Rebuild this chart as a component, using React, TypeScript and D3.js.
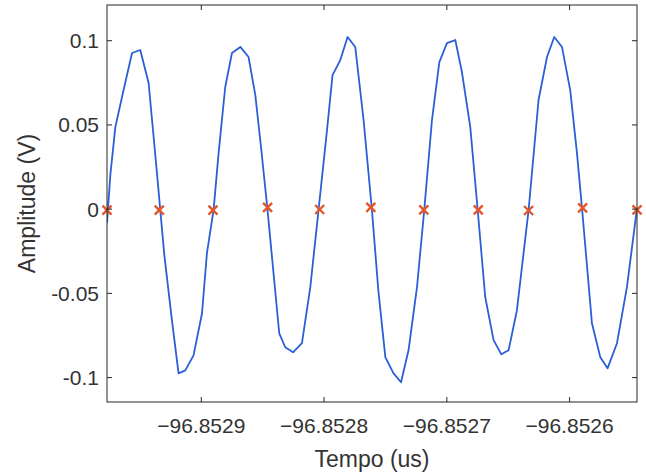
import React, { useEffect, useRef } from 'react';
import * as d3 from 'd3';

const sampleTime = [
  -96.8529768, -96.8529741, -96.85297, -96.8529633, -96.8529564, -96.8529497, -96.8529429,
  -96.8529367, -96.8529301, -96.8529239, -96.8529185, -96.852913, -96.8529063, -96.8528994,
  -96.8528954, -96.85289, -96.8528859, -96.8528805, -96.852875, -96.8528682, -96.8528615,
  -96.852856, -96.8528511, -96.8528462, -96.8528414, -96.8528365, -96.8528316, -96.8528253,
  -96.852818, -96.8528112, -96.8528045, -96.8527976, -96.8527931, -96.8527868, -96.8527808,
  -96.8527746, -96.8527678, -96.852761, -96.8527558, -96.8527501, -96.8527434, -96.8527373,
  -96.8527312, -96.8527243, -96.8527184, -96.8527121, -96.8527061, -96.8526999, -96.8526931,
  -96.8526877, -96.8526809, -96.852675, -96.8526687, -96.8526619, -96.8526556, -96.8526497,
  -96.8526429, -96.8526375, -96.8526334, -96.8526253, -96.8526184, -96.8526125, -96.8526062,
  -96.8525995, -96.852594, -96.8525899, -96.8525818, -96.852575, -96.8525691, -96.8525614,
  -96.8525533, -96.8525451
];

const sampleAmp = [
  -0.0083, 0.0202, 0.0487, 0.0707, 0.0927, 0.0945, 0.0749,
  0.0261, -0.0273, -0.066, -0.0975, -0.0957, -0.0868, -0.0618,
  -0.0261, -0.0006, 0.0333, 0.0725, 0.0927, 0.0963, 0.0903,
  0.0677, 0.0351, 0.0006, -0.0362, -0.0737, -0.082, -0.085,
  -0.0796, -0.0463, -0.0006, 0.0469, 0.0796, 0.0885, 0.1022,
  0.0963, 0.0529, -0.0006, -0.0481, -0.0879, -0.0975, -0.1028,
  -0.0838, -0.0463, -0.0006, 0.0529, 0.0873, 0.0986, 0.1004,
  0.0814, 0.0487, 0.0006, -0.0523, -0.0778, -0.0862, -0.0838,
  -0.06, -0.0261, -0.0006, 0.0648, 0.0903, 0.1022, 0.0963,
  0.0707, 0.0333, 0.0006, -0.0677, -0.0879, -0.0945, -0.0796,
  -0.0463, 0.0006
];

// zero crossings (red x markers)
const crossTime = [
  -96.8529768, -96.8529342, -96.8528905, -96.852846, -96.8528036, -96.8527619,
  -96.8527188, -96.8526744, -96.8526334, -96.8525894, -96.8525451
];
const crossAmp = [-0.0006, -0.0006, -0.0006, 0.001, -0.0002, 0.001, -0.0004, -0.0004, -0.0008, 0.0008, -0.0004];

const xTicks = [-96.8529, -96.8528, -96.8527, -96.8526];
const yTicks = [-0.1, -0.05, 0, 0.05, 0.1];
const yLimits = [-0.1145, 0.1212];

const W = 646, H = 476;

const App = () => {
  const ref = useRef<SVGSVGElement>(null);

  useEffect(() => {
    const svg = d3.select(ref.current);
    svg.selectAll('*').remove();

    const margin = { top: 5, right: 9, bottom: 74, left: 107 };
    const width = W - margin.left - margin.right;
    const height = H - margin.top - margin.bottom;
    const font = '"Liberation Sans", Arial, sans-serif';
    const ink = '#262626';

    const g = svg.append('g').attr('transform', `translate(${margin.left},${margin.top})`);

    const x = d3.scaleLinear().domain(d3.extent(sampleTime) as [number, number]).range([0, width]);
    const y = d3.scaleLinear().domain(yLimits).range([height, 0]);

    g.append('clipPath').attr('id', 'plotclip')
      .append('rect').attr('width', width).attr('height', height);

    const pts = sampleTime.map((t, i) => [t, sampleAmp[i]] as [number, number]);
    const line = d3.line<[number, number]>().x(d => x(d[0])).y(d => y(d[1]));

    g.append('path')
      .datum(pts)
      .attr('clip-path', 'url(#plotclip)')
      .attr('fill', 'none')
      .attr('stroke', '#2b5fd6')
      .attr('stroke-width', 1.8)
      .attr('stroke-linejoin', 'round')
      .attr('d', line);

    // x markers
    const mk = g.selectAll('.mk')
      .data(crossTime.map((t, i) => [t, crossAmp[i]]))
      .enter().append('g')
      .attr('class', 'mk')
      .attr('transform', d => `translate(${x(d[0])},${y(d[1])})`);
    const s = 4.5;
    mk.append('line').attr('x1', -s).attr('y1', -s).attr('x2', s).attr('y2', s);
    mk.append('line').attr('x1', -s).attr('y1', s).attr('x2', s).attr('y2', -s);
    mk.selectAll('line').attr('stroke', '#e2572a').attr('stroke-width', 2.4);

    // box
    g.append('rect')
      .attr('width', width).attr('height', height)
      .attr('fill', 'none').attr('stroke', ink).attr('stroke-width', 1);

    const tl = 5;
    // x ticks bottom and top, pointing inward
    xTicks.forEach(t => {
      g.append('line').attr('x1', x(t)).attr('x2', x(t)).attr('y1', height).attr('y2', height - tl).attr('stroke', ink);
      g.append('line').attr('x1', x(t)).attr('x2', x(t)).attr('y1', 0).attr('y2', tl).attr('stroke', ink);
    });
    yTicks.forEach(t => {
      g.append('line').attr('x1', 0).attr('x2', tl).attr('y1', y(t)).attr('y2', y(t)).attr('stroke', ink);
      g.append('line').attr('x1', width).attr('x2', width - tl).attr('y1', y(t)).attr('y2', y(t)).attr('stroke', ink);
    });

    const xFmt = d3.format('.4f');
    g.selectAll('.xt').data(xTicks).enter().append('text')
      .attr('x', d => x(d)).attr('y', height + 31)
      .attr('text-anchor', 'middle')
      .style('font-family', font).style('font-size', '21px').attr('fill', '#333')
      .text(d => xFmt(d));

    g.selectAll('.yt').data(yTicks).enter().append('text')
      .attr('x', -8).attr('y', d => y(d)).attr('dy', '0.36em')
      .attr('text-anchor', 'end')
      .style('font-family', font).style('font-size', '21px').attr('fill', '#333')
      .text(d => String(d));

    g.append('text')
      .attr('x', width / 2).attr('y', height + 65)
      .attr('text-anchor', 'middle')
      .style('font-family', font).style('font-size', '23px').attr('fill', '#333')
      .text('Tempo (us)');

    g.append('text')
      .attr('transform', `translate(${-72},${height / 2}) rotate(-90)`)
      .attr('text-anchor', 'middle')
      .style('font-family', font).style('font-size', '23px').attr('fill', '#333')
      .text('Amplitude (V)');
  }, []);

  return (
    <svg ref={ref} width={W} height={H}
      style={{ position: 'absolute', left: 0, top: 0, background: '#fff' }} />
  );
};

export default App;
